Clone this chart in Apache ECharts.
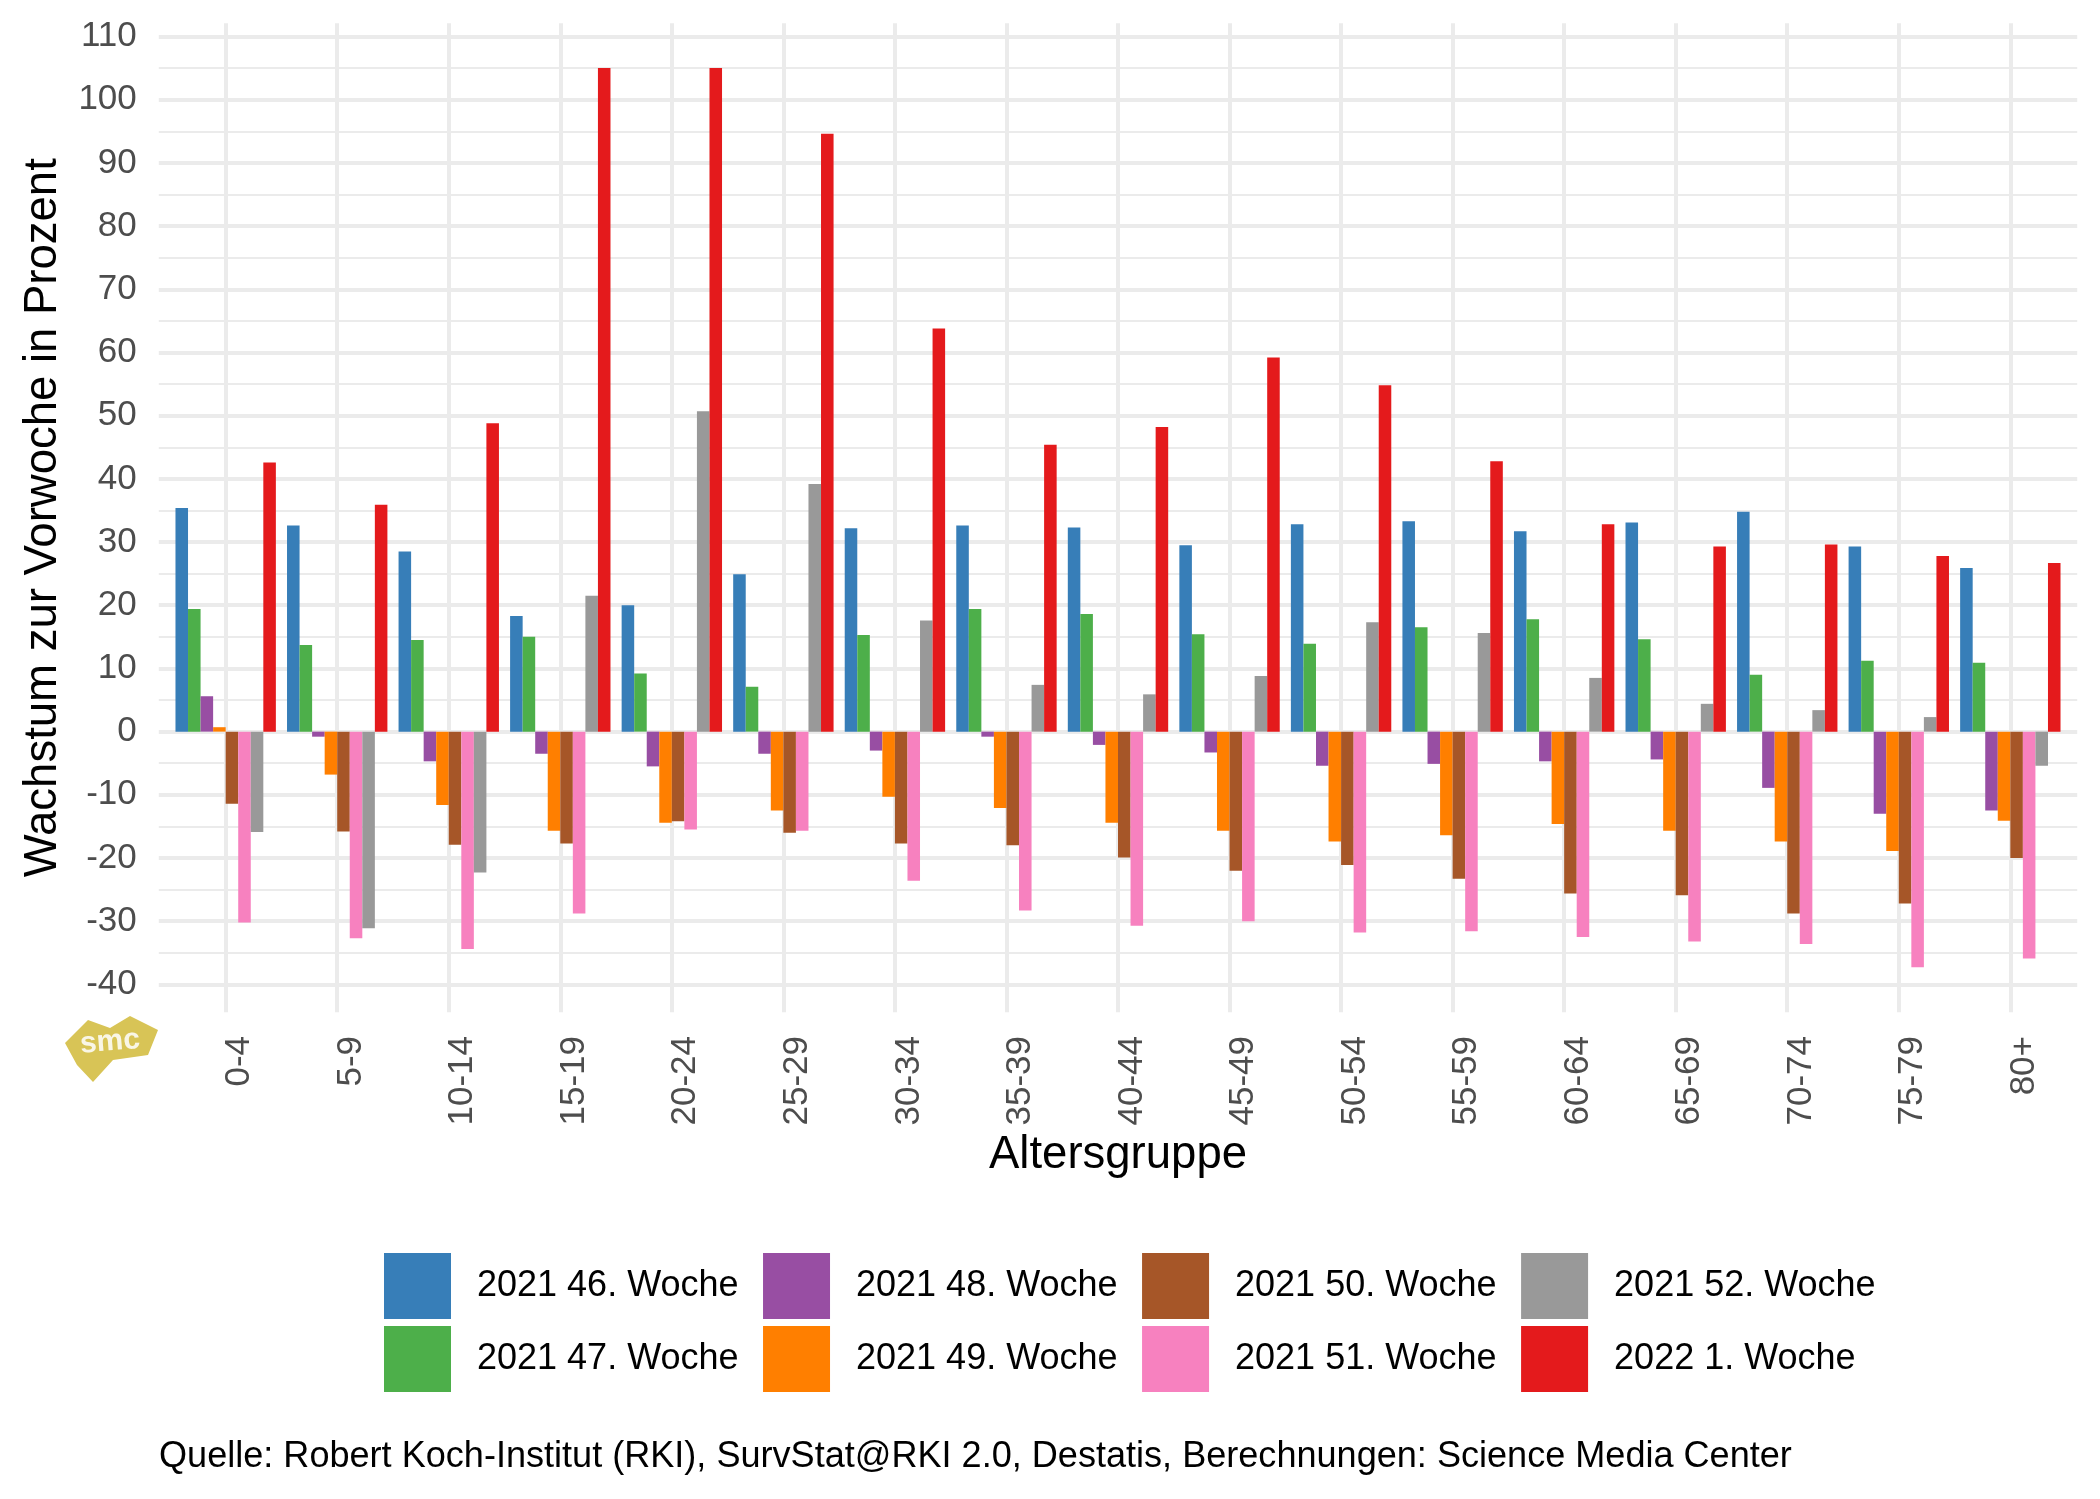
<!DOCTYPE html>
<html>
<head>
<meta charset="utf-8">
<script src="https://cdn.jsdelivr.net/npm/echarts@6/dist/echarts.min.js"></script>
<style>
html,body{margin:0;padding:0;background:#fff;}
#chart{width:2100px;height:1499px;}
</style>
</head>
<body>
<div id="chart"></div>
<script>
var categories = ['0-4','5-9','10-14','15-19','20-24','25-29','30-34','35-39','40-44','45-49','50-54','55-59','60-64','65-69','70-74','75-79','80+'];
var seriesNames = ['2021 46. Woche','2021 47. Woche','2021 48. Woche','2021 49. Woche','2021 50. Woche','2021 51. Woche','2021 52. Woche','2022 1. Woche'];
var seriesColors = ['#377EB8','#4DAF4A','#984EA3','#FF7F00','#A65628','#F781BF','#999999','#E41A1C'];
var w46 = [35.4, 32.6, 28.5, 18.3, 20.0, 24.9, 32.2, 32.6, 32.3, 29.5, 32.8, 33.3, 31.7, 33.1, 34.8, 29.3, 25.9];
var w47 = [19.4, 13.7, 14.5, 15.0, 9.2, 7.1, 15.3, 19.4, 18.6, 15.4, 13.9, 16.5, 17.8, 14.6, 9.0, 11.2, 10.9];
var w48 = [5.6, -0.8, -4.7, -3.5, -5.5, -3.5, -3.0, -0.8, -2.1, -3.3, -5.4, -5.1, -4.7, -4.4, -8.9, -13.0, -12.5];
var w49 = [0.7, -6.8, -11.6, -15.7, -14.4, -12.5, -10.3, -12.1, -14.4, -15.7, -17.4, -16.4, -14.6, -15.7, -17.4, -18.9, -14.1];
var w50 = [-11.4, -15.8, -17.9, -17.7, -14.2, -16.0, -17.7, -18.0, -19.9, -22.0, -21.1, -23.3, -25.6, -25.9, -28.8, -27.2, -20.0];
var w51 = [-30.2, -32.7, -34.4, -28.8, -15.5, -15.7, -23.6, -28.3, -30.7, -30.0, -31.8, -31.6, -32.5, -33.2, -33.6, -37.3, -35.9];
var w52 = [-15.9, -31.1, -22.3, 21.5, 50.7, 39.2, 17.6, 7.4, 5.9, 8.8, 17.3, 15.6, 8.5, 4.4, 3.4, 2.3, -5.4];
var w01 = [42.6, 35.9, 48.8, 105.0, 105.0, 94.6, 63.8, 45.4, 48.2, 59.2, 54.8, 42.8, 32.8, 29.3, 29.6, 27.8, 26.7];
var yTicks = {min: -40, max: 110, interval: 10};
var allValues = [w46, w47, w48, w49, w50, w51, w52, w01];

var FONT = 'Liberation Sans, Arial, Helvetica, sans-serif';
var chart = echarts.init(document.getElementById('chart'), null, {renderer: 'canvas'});

var series = seriesNames.map(function (name, i) {
  return {
    name: name,
    type: 'bar',
    xAxisIndex: 0,
    yAxisIndex: 0,
    data: allValues[i],
    itemStyle: {color: seriesColors[i]},
    barGap: '0%',
    barCategoryGap: '10%',
    emphasis: {disabled: true},
    z: 3
  };
});

var legendCommon = {
  orient: 'horizontal',
  padding: 0,
  itemWidth: 67,
  itemHeight: 66,
  itemGap: 24.5,
  icon: 'rect',
  selectedMode: false,
  textStyle: {fontSize: 36, color: '#000', fontFamily: FONT, padding: [8, 0, 0, 21]}
};

var option = {
  backgroundColor: '#fff',
  animation: false,
  textStyle: {fontFamily: FONT},
  grid: [
    {left: 169.9, width: 1896.2, top: 36.5, height: 947.9},
    {left: 158.8, width: 1918.4, top: 36.5, height: 947.9},
    {left: 225.7, width: 1784.6, top: 23.2, height: 989}
  ],
  xAxis: [
    {
      type: 'category', gridIndex: 0, data: categories,
      axisLine: {show: false}, axisTick: {show: false}, splitLine: {show: false},
      axisLabel: {
        interval: 0, rotate: 90, margin: 51.6, fontSize: 35, color: '#4d4d4d', fontFamily: FONT,
        verticalAlign: 'top', lineHeight: 28
      }
    },
    {type: 'value', gridIndex: 1, show: false},
    {
      type: 'value', gridIndex: 2, min: 0, max: 16, interval: 1,
      axisLine: {show: false}, axisTick: {show: false}, axisLabel: {show: false},
      splitLine: {show: true, lineStyle: {color: '#ebebeb', width: 4}}
    }
  ],
  yAxis: [
    {type: 'value', gridIndex: 0, min: yTicks.min, max: yTicks.max, interval: yTicks.interval, show: false},
    {
      type: 'value', gridIndex: 1, min: yTicks.min, max: yTicks.max, interval: yTicks.interval,
      axisLine: {show: false}, axisTick: {show: false},
      axisLabel: {margin: 22, fontSize: 35, color: '#4d4d4d', fontFamily: FONT},
      splitLine: {show: true, lineStyle: {color: '#ebebeb', width: 4}},
      minorTick: {show: false, splitNumber: 2},
      minorSplitLine: {show: true, lineStyle: {color: '#ebebeb', width: 2}}
    },
    {type: 'value', gridIndex: 2, min: 0, max: 1, axisLine: {show: false}, axisTick: {show: false}, axisLabel: {show: false}, splitLine: {show: false}}
  ],
  legend: [
    Object.assign({}, legendCommon, {left: 384, top: 1253, data: [seriesNames[0], seriesNames[2], seriesNames[4], seriesNames[6]]}),
    Object.assign({}, legendCommon, {left: 384, top: 1326, data: [seriesNames[1], seriesNames[3], seriesNames[5], seriesNames[7]]})
  ],
  graphic: [
    {
      type: 'text', x: 43, y: 517.7, rotation: Math.PI / 2,
      style: {text: 'Wachstum zur Vorwoche in Prozent', fontSize: 45.5, fill: '#000', fontFamily: FONT, textAlign: 'center', textVerticalAlign: 'middle'}
    },
    {
      type: 'text', x: 1118, y: 1155,
      style: {text: 'Altersgruppe', fontSize: 45.5, fill: '#000', fontFamily: FONT, textAlign: 'center', textVerticalAlign: 'middle'}
    },
    {
      type: 'text', x: 159, y: 1457,
      style: {text: 'Quelle: Robert Koch-Institut (RKI), SurvStat@RKI 2.0, Destatis, Berechnungen: Science Media Center', fontSize: 36.1, fill: '#000', fontFamily: FONT, textAlign: 'left', textVerticalAlign: 'middle'}
    },
    {
      type: 'polygon',
      shape: {points: [[65,1043],[88,1020],[110,1028],[130,1016],[158,1030],[148,1055],[113,1060],[93,1082],[77,1065]]},
      style: {fill: '#d8c456'}
    },
    {
      type: 'text', x: 110, y: 1042, rotation: 0.08,
      style: {text: 'smc', fontSize: 30, fontWeight: 'bold', fill: '#fff', fontFamily: FONT, textAlign: 'center', textVerticalAlign: 'middle', opacity: 0.85}
    }
  ],
  series: series
};
chart.setOption(option);
</script>
</body>
</html>
